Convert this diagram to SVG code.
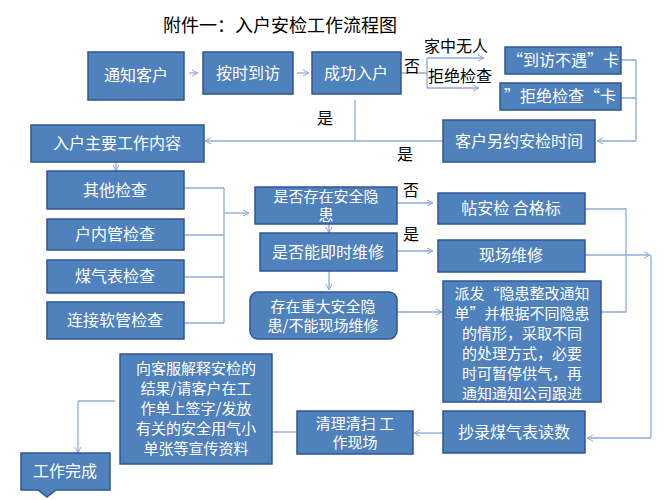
<svg xmlns="http://www.w3.org/2000/svg" width="667" height="500" viewBox="0 0 667 500">
<defs>
<marker id="a" markerWidth="8" markerHeight="8" refX="7" refY="4" orient="auto" markerUnits="userSpaceOnUse"><path d="M1,1 L7,4 L1,7" fill="none" stroke="#8eaadb" stroke-width="1"/></marker>
<style>
.b{fill:#4f81bd;stroke:#2f5597;stroke-width:1.5}
.t{fill:#fff;font-family:"Noto Sans CJK SC","Liberation Sans",sans-serif;font-size:16px;text-anchor:middle}
.m{font-size:15px}
.k{fill:#000;font-family:"Noto Sans CJK SC","Liberation Sans",sans-serif;font-size:16px}
.c{fill:none;stroke:#8eaadb;stroke-width:1.3}
.c2{fill:none;stroke:#8eaadb;stroke-width:1.3;marker-end:url(#a)}
</style>
</defs>
<rect width="667" height="500" fill="#fff"/>
<text x="163" y="32" class="k" style="font-size:18px">附件一：入户安检工作流程图</text>
<g id="connectors">
<path class="c2" d="M189,73 H198"/>
<path class="c2" d="M297,73 H309"/>
<path class="c" d="M401,73 H427 M427,58 V88"/>
<path class="c2" d="M427,58 H484"/>
<path class="c2" d="M427,88 H479"/>
<path class="c" d="M621,60 H636 M621,98 H636 M636,60 V141"/>
<path class="c2" d="M636,141 H597"/>
<path class="c2" d="M443,141 H205"/>
<path class="c" d="M355,100 V141"/>
<path class="c2" d="M116,162 V171"/>
<path class="c" d="M184,188 H224 M184,235 H224 M184,277 H224 M184,323 H224 M224,188 V323"/>
<path class="c2" d="M224,213 H249"/>
<path class="c2" d="M329,224 V233"/>
<path class="c2" d="M329,271 V290"/>
<path class="c2" d="M397,203 H433"/>
<path class="c2" d="M397,251 H433"/>
<path class="c2" d="M397,312 H442"/>
<path class="c" d="M585,209 H626 V312 H601"/>
<path class="c2" d="M585,255 H650"/>
<path class="c" d="M651,255 V438"/>
<path class="c2" d="M651,438 H587"/>
<path class="c2" d="M443,433 H414"/>
<path class="c" d="M297,432 H272"/>
<path class="c" d="M115,401 H78"/>
<path class="c2" d="M78,401 V453"/>
</g>
<text x="404" y="72" class="k">否</text>
<text x="424" y="52" class="k">家中无人</text>
<text x="428" y="82" class="k">拒绝检查</text>
<text x="317" y="124" class="k">是</text>
<text x="397" y="160" class="k">是</text>
<text x="403" y="196" class="k">否</text>
<text x="403" y="240" class="k">是</text>
<g id="n1"><rect class="b" x="88" y="52" width="96" height="48"/><text class="t" x="136" y="81">通知客户</text></g>
<g id="n2"><rect class="b" x="203" y="52" width="90" height="42"/><text class="t" x="248" y="79">按时到访</text></g>
<g id="n3"><rect class="b" x="312" y="52" width="89" height="42"/><text class="t" x="356" y="79">成功入户</text></g>
<g id="n4"><rect class="b" x="505" y="47" width="116" height="27"/><text class="t" x="563" y="66">“到访不遇”卡</text></g>
<g id="n5"><rect class="b" x="500" y="83" width="121" height="27"/><text class="t" x="560" y="102">”拒绝检查“卡</text></g>
<g id="n6"><rect class="b" x="443" y="120" width="152" height="42"/><text class="t" x="519" y="147">客户另约安检时间</text></g>
<g id="n7"><rect class="b" x="31" y="125" width="173" height="37"/><text class="t" x="117" y="149">入户主要工作内容</text></g>
<g id="n8"><rect class="b" x="47" y="171" width="137" height="38"/><text class="t" x="115" y="196">其他检查</text></g>
<g id="n9"><rect class="b" x="47" y="219" width="137" height="31"/><text class="t" x="115" y="240">户内管检查</text></g>
<g id="n10"><rect class="b" x="47" y="260" width="137" height="33"/><text class="t" x="115" y="282">煤气表检查</text></g>
<g id="n11"><rect class="b" x="47" y="302" width="137" height="37"/><text class="t" x="115" y="326">连接软管检查</text></g>
<g id="n12"><rect class="b" x="255" y="187" width="142" height="37"/><text class="t m" x="326" y="202">是否存在安全隐</text><text class="t m" x="326" y="220">患</text></g>
<g id="n13"><rect class="b" x="260" y="233" width="137" height="38"/><text class="t" x="328" y="258">是否能即时维修</text></g>
<g id="n14"><rect class="b" x="438" y="193" width="147" height="31"/><text class="t" x="511" y="214">帖安检  合格标</text></g>
<g id="n15"><rect class="b" x="438" y="240" width="147" height="32"/><text class="t" x="511" y="261">现场维修</text></g>
<g id="n16"><rect class="b" x="250" y="292" width="147" height="47" rx="8"/><text class="t m" x="323" y="312">存在重大安全隐</text><text class="t m" x="323" y="331">患/不能现场维修</text></g>
<g id="n17"><rect class="b" x="443" y="281" width="158" height="121"/>
<text class="t m" x="522" y="299">派发“隐患整改通知</text><text class="t m" x="522" y="319">单”并根据不同隐患</text><text class="t m" x="522" y="339">的情形，采取不同</text><text class="t m" x="522" y="359">的处理方式，必要</text><text class="t m" x="522" y="379">时可暂停供气，再</text><text class="t m" x="522" y="399">通知通知公司跟进</text></g>
<g id="n18"><rect class="b" x="443" y="411" width="142" height="42"/><text class="t" x="514" y="438">抄录煤气表读数</text></g>
<g id="n19"><rect class="b" x="297" y="411" width="116" height="43"/><text class="t m" x="355" y="429">清理清扫  工</text><text class="t m" x="355" y="448">作现场</text></g>
<g id="n20"><rect class="b" x="120" y="354" width="152" height="110"/>
<text class="t m" x="196" y="374">向客服解释安检的</text><text class="t m" x="196" y="394">结果/请客户在工</text><text class="t m" x="196" y="414">作单上签字/发放</text><text class="t m" x="196" y="434">有关的安全用气小</text><text class="t m" x="196" y="454">单张等宣传资料</text></g>
<g id="n21"><path class="b" d="M21,453 H110 V490 H56 L47,497 L38,490 H21 Z"/><text class="t" x="65" y="477">工作完成</text></g>
</svg>
